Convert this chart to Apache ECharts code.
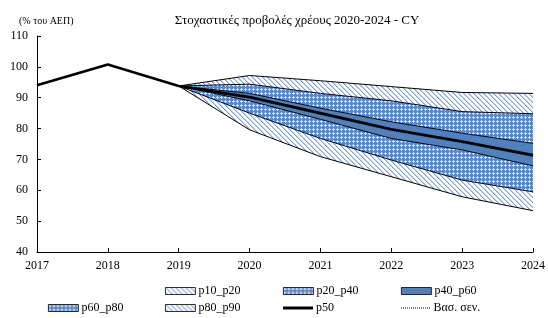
<!DOCTYPE html>
<html>
<head>
<meta charset="utf-8">
<script src="https://cdn.jsdelivr.net/npm/echarts@6/dist/echarts.min.js"></script>
<style>
  html, body { margin: 0; padding: 0; background: #fff; }
  #chart { width: 548px; height: 318px; }
</style>
</head>
<body>
<div id="chart"></div>
<script>
// data
var years = ['2017', '2018', '2019', '2020', '2021', '2022', '2023', '2024'];
var p10 = [null, null, 93.8, 79.6, 70.9, 64.4, 57.9, 53.4];
var p20 = [null, null, 93.8, 85.0, 76.8, 69.8, 63.3, 59.5];
var p40 = [null, null, 93.8, 89.0, 83.0, 76.8, 73.1, 67.9];
var p50 = [94.0, 100.8, 93.8, 90.2, 85.0, 79.8, 75.8, 71.4];
var p60 = [null, null, 93.8, 91.4, 86.6, 82.2, 78.5, 75.2];
var p80 = [null, null, 93.8, 94.4, 91.4, 89.0, 85.5, 84.8];
var p90 = [null, null, 93.8, 97.2, 95.5, 93.6, 91.7, 91.4];
var baseline = [null, null, 93.8, 89.8, 84.6, 79.4, 75.4, 71.0];

var FONT = 'Liberation Serif';

function diff(hi, lo) {
  return hi.map(function (v, i) { return v == null ? null : +(v - lo[i]).toFixed(2); });
}

// diagonal hatch, white with light blue lines
function hatchPattern() {
  var c = document.createElement('canvas');
  c.width = c.height = 5;
  var ctx = c.getContext('2d');
  ctx.fillStyle = '#fff';
  ctx.fillRect(0, 0, 5, 5);
  for (var i = 0; i < 5; i++) {
    ctx.fillStyle = '#7C9FD2';
    ctx.fillRect(i, i, 1, 1);
    ctx.fillStyle = '#C3D3EC';
    ctx.fillRect((i + 1) % 5, i, 1, 1);
  }
  return { image: c, repeat: 'repeat' };
}

// blue with small light crosses
function dotPattern() {
  var c = document.createElement('canvas');
  c.width = c.height = 4;
  var ctx = c.getContext('2d');
  ctx.fillStyle = '#5A87C6';
  ctx.fillRect(0, 0, 4, 4);
  ctx.fillStyle = '#C9D8EF';
  [[1, 0], [0, 1], [2, 1], [1, 2]].forEach(function (p) { ctx.fillRect(p[0], p[1], 1, 1); });
  ctx.fillStyle = '#F2F6FC';
  ctx.fillRect(1, 1, 1, 1);
  return { image: c, repeat: 'repeat' };
}

// dotted-line legend icon: little squares across
function dottedIcon() {
  var d = '';
  for (var i = 0; i < 15; i++) d += 'M' + (i * 2) + ',0h1v1h-1Z';
  return 'path://' + d;
}

var hatch = hatchPattern();
var dots = dotPattern();
var solid = '#4F81BD';

var chart = echarts.init(document.getElementById('chart'), null, { renderer: 'canvas' });

function band(name, data, fill) {
  return {
    name: name,
    type: 'line',
    stack: 'fan',
    data: data,
    symbol: 'none',
    lineStyle: { color: '#000', width: 1 },
    itemStyle: { color: fill },
    areaStyle: { color: fill, opacity: 1 },
    z: 2
  };
}

function legendItem(name, left, top, extra) {
  var item = Object.assign({ name: name }, extra);
  delete item.h;
  return {
    left: left,
    top: top,
    itemWidth: 30,
    itemHeight: extra.h || 7,
    itemGap: 0,
    textStyle: { fontFamily: FONT, fontSize: 12, color: '#000', padding: [0, 0, 0, -2] },
    selectedMode: false,
    data: [item]
  };
}

var boxStyle = function (fill) {
  return { icon: 'rect', itemStyle: { color: fill, borderColor: '#000', borderWidth: 0.8 } };
};

var option = {
  animation: false,
  title: [{
    text: 'Στοχαστικές προβολές χρέους 2020-2024 - CY',
    left: 292, top: 9, textAlign: 'center',
    textStyle: { fontFamily: FONT, fontSize: 13, fontWeight: 'normal', color: '#000' }
  }, {
    text: '(% του ΑΕΠ)',
    left: 14, top: 11,
    textStyle: { fontFamily: FONT, fontSize: 10, fontWeight: 'normal', color: '#000' }
  }],
  legend: [
    legendItem('p10_p20', 160, 280, boxStyle(hatch)),
    legendItem('p20_p40', 278, 280, boxStyle(dots)),
    legendItem('p40_p60', 396, 280, boxStyle(solid)),
    legendItem('p60_p80', 43, 297, boxStyle(dots)),
    legendItem('p80_p90', 160, 297, boxStyle(hatch)),
    legendItem('p50', 278, 297, { icon: 'rect', h: 3, itemStyle: { color: '#000' } }),
    legendItem('Βασ. σεν.', 396, 297, { icon: dottedIcon(), h: 1, itemStyle: { color: '#000', borderWidth: 0 } })
  ],
  grid: { left: 37, right: 11, top: 36, bottom: 66 },
  xAxis: {
    type: 'category',
    data: years,
    boundaryGap: false,
    axisLine: { lineStyle: { color: '#000', width: 1 } },
    axisTick: { inside: true, length: 4, lineStyle: { color: '#000' } },
    axisLabel: { fontFamily: FONT, fontSize: 12, color: '#000', margin: 8 },
    splitLine: { show: false }
  },
  yAxis: {
    type: 'value',
    min: 40, max: 110, interval: 10,
    axisLine: { show: true, lineStyle: { color: '#000', width: 1 } },
    axisTick: { show: true, inside: true, length: 4, lineStyle: { color: '#000' } },
    axisLabel: { fontFamily: FONT, fontSize: 12, color: '#000', margin: 9 },
    splitLine: { show: false }
  },
  series: [
    {
      name: 'base', type: 'line', stack: 'fan', data: p10, symbol: 'none',
      lineStyle: { color: '#000', width: 1 }, z: 2
    },
    band('p10_p20', diff(p20, p10), hatch),
    band('p20_p40', diff(p40, p20), dots),
    band('p40_p60', diff(p60, p40), solid),
    band('p60_p80', diff(p80, p60), dots),
    band('p80_p90', diff(p90, p80), hatch),
    {
      name: 'Βασ. σεν.', type: 'line', data: baseline, symbol: 'none',
      lineStyle: { color: '#000', width: 1, type: 'dotted' },
      itemStyle: { color: '#000' }, z: 3
    },
    {
      name: 'p50', type: 'line', data: p50, symbol: 'none',
      lineStyle: { color: '#000', width: 2.6 },
      itemStyle: { color: '#000' }, z: 4
    }
  ]
};

chart.setOption(option);
</script>
</body>
</html>
